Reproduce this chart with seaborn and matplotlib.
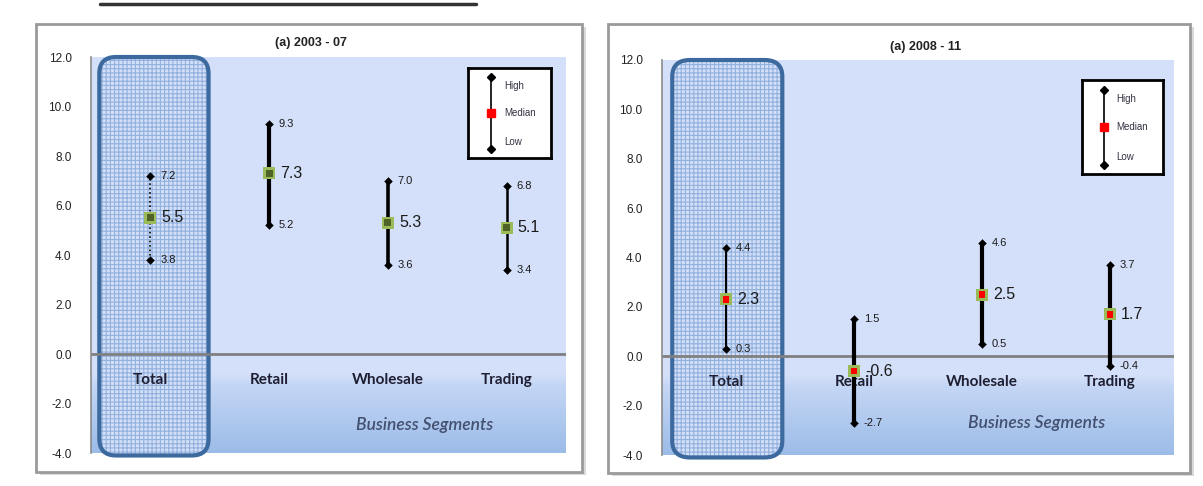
import numpy as np
import pandas as pd
import matplotlib
matplotlib.use("Agg")
import matplotlib.pyplot as plt
import seaborn as sns
from matplotlib.patches import FancyBboxPatch, Rectangle
from matplotlib.colors import LinearSegmentedColormap
from matplotlib.lines import Line2D

# Data
segments = ["Total", "Retail", "Wholesale", "Trading"]
titles = ["(a) 2003 - 07", "(a) 2008 - 11"]

high_0307 = [7.2, 9.3, 7.0, 6.8]
median_0307 = [5.5, 7.3, 5.3, 5.1]
low_0307 = [3.8, 5.2, 3.6, 3.4]

high_0811 = [4.4, 1.5, 4.6, 3.7]
median_0811 = [2.3, -0.6, 2.5, 1.7]
low_0811 = [0.3, -2.7, 0.5, -0.4]

yticks = [12.0, 10.0, 8.0, 6.0, 4.0, 2.0, 0.0, -2.0, -4.0]

sns.set_style("white")
plt.rcParams["font.family"] = ["Liberation Sans", "DejaVu Sans"]
plt.rcParams["hatch.linewidth"] = 0.8

fig = plt.figure(figsize=(12.03, 4.86), dpi=100)
W, H = 1203, 486


def px_rect(x0, y0, x1, y1):
    # pixel box (top-left origin) -> figure fraction [l, b, w, h]
    return [x0 / W, 1 - y1 / H, (x1 - x0) / W, (y1 - y0) / H]


# outer panel frames with a soft shadow
for (x0, y0, x1, y1) in [(36, 24, 582, 472), (608, 24, 1190, 473)]:
    l, b, w, h = px_rect(x0, y0, x1, y1)
    fig.patches.append(Rectangle((l + 0.003, b - 0.007), w, h, transform=fig.transFigure,
                                 facecolor="#d9d9d9", edgecolor="none", zorder=-2))
    fig.patches.append(Rectangle((l, b), w, h, transform=fig.transFigure,
                                 facecolor="white", edgecolor="#9a9a9a", lw=2, zorder=-1))

# stray rule at the top of the page
fig.add_artist(Line2D([100 / W, 476 / W], [1 - 4 / H, 1 - 4 / H], color="#333333", lw=2.5))

bg_cmap = LinearSegmentedColormap.from_list(
    "bg", [(0, "#9cbce8"), (0.17, "#c4d6f5"), (0.2, "#d4e0f9"), (1, "#d5e1fa")])

panels = [
    dict(box=(91, 57, 566, 453), high=high_0307, med=median_0307, low=low_0307,
         inner="#4f6228", title_xy=(311, 43), rect=(-0.43, 0.49),
         legend=[0.794, 0.745, 0.175, 0.227], bs=(0.703, 0.071),
         lws=[1.2, 3.0, 2.6, 1.8], styles=[":", "-", "-", "-"]),
    dict(box=(662, 60, 1174, 455), high=high_0811, med=median_0811, low=low_0811,
         inner="#ff0000", title_xy=(926, 47), rect=(-0.42, 0.44),
         legend=[0.820, 0.711, 0.158, 0.238], bs=(0.732, 0.081),
         lws=[1.5, 3.0, 3.0, 3.0], styles=["-", "-", "-", "-"]),
]

for i, p in enumerate(panels):
    ax = fig.add_axes(px_rect(*p["box"]))
    ax.set_zorder(2)
    pos = np.arange(len(segments))
    df = pd.DataFrame({"segment": segments, "pos": pos,
                       "high": p["high"], "median": p["med"], "low": p["low"]})

    ax.set_xlim(-0.5, 3.5)
    ax.set_ylim(-4, 12)

    grad = np.linspace(0, 1, 256).reshape(-1, 1)
    ax.imshow(grad, cmap=bg_cmap, origin="lower", aspect="auto",
              extent=[-0.5, 3.5, -4, 12], zorder=0)

    # highlighted "Total" column
    x0, x1 = p["rect"]
    fill = FancyBboxPatch((x0, -4.1), x1 - x0, 16.1,
                          boxstyle="round,pad=0,rounding_size=0.14", mutation_aspect=4.8,
                          facecolor="#d2dff7", edgecolor="#93b1de", hatch="++++", lw=0,
                          zorder=1, clip_on=False)
    ax.add_patch(fill)
    border = FancyBboxPatch((x0, -4.1), x1 - x0, 16.1,
                            boxstyle="round,pad=0,rounding_size=0.14", mutation_aspect=4.8,
                            facecolor="none", edgecolor="#3d6a9e", lw=3,
                            zorder=1.2, clip_on=False)
    ax.add_patch(border)

    ax.axhline(0, color="#808080", lw=2, zorder=1.5)

    # category labels inside the plot
    for xp, name in zip(pos, segments):
        ax.text(xp, -1.05, name, ha="center", va="center", fontsize=11,
                fontweight="bold", color="#1f1f33", family=["Lato", "DejaVu Sans"], zorder=2)
    ax.text(p["bs"][0], p["bs"][1], "Business Segments", transform=ax.transAxes,
            ha="center", va="center", fontsize=12.5, style="italic", fontweight="semibold",
            color="#435070", family=["Lato", "DejaVu Sans"], zorder=2)

    # high-low ranges
    for xp, hi, lo, lw, ls in zip(df["pos"], df["high"], df["low"], p["lws"], p["styles"]):
        ax.plot([xp, xp], [lo, hi], color="black", lw=lw, ls=ls, zorder=3,
                solid_capstyle="butt")
    sns.scatterplot(data=df, x="pos", y="high", marker="D", s=16, color="black",
                    edgecolor="black", ax=ax, legend=False, zorder=4)
    sns.scatterplot(data=df, x="pos", y="low", marker="D", s=16, color="black",
                    edgecolor="black", ax=ax, legend=False, zorder=4)
    sns.scatterplot(data=df, x="pos", y="median", marker="s", s=75, color="#9bbb59",
                    edgecolor="none", ax=ax, legend=False, zorder=5)
    sns.scatterplot(data=df, x="pos", y="median", marker="s", s=24, color=p["inner"],
                    edgecolor="none", ax=ax, legend=False, zorder=6)

    # value labels
    for xp, hi, md, lo in zip(df["pos"], df["high"], df["median"], df["low"]):
        for val, fs, off in [(hi, 8, 7), (lo, 8, 7), (md, 11.5, 8)]:
            ax.annotate(f"{val:.1f}", (xp, val), xytext=(off, 0), textcoords="offset points",
                        ha="left", va="center", fontsize=fs, color="#1a1a1a", zorder=7)

    ax.set_xlabel("")
    ax.set_ylabel("")
    ax.set_xticks([])
    ax.set_yticks(yticks)
    ax.set_yticklabels([f"{t:.1f}" for t in yticks], fontsize=8.5, color="#222222")
    ax.tick_params(axis="y", length=0, pad=14)
    for side in ["top", "right", "bottom"]:
        ax.spines[side].set_visible(False)
    ax.spines["left"].set_color("#8c8c8c")
    ax.spines["left"].set_linewidth(1.2)
    ax.spines["left"].set_zorder(2)

    # custom High / Median / Low key
    lg = ax.inset_axes(p["legend"], zorder=10)
    lg.set_xlim(0, 1)
    lg.set_ylim(0, 1)
    lg.set_xticks([])
    lg.set_yticks([])
    lg.set_facecolor("white")
    for s in lg.spines.values():
        s.set_color("black")
        s.set_linewidth(2)
    lg.plot([0.28, 0.28], [0.1, 0.9], color="black", lw=1.2)
    lg.plot([0.28, 0.28], [0.1, 0.9], ls="none", marker="D", ms=4, color="black")
    lg.plot([0.28], [0.5], ls="none", marker="s", ms=6, color="#ff0000")
    for yy, lab in [(0.8, "High"), (0.5, "Median"), (0.18, "Low")]:
        lg.text(0.43, yy, lab, ha="left", va="center", fontsize=7, color="#333344")

    fig.text(p["title_xy"][0] / W, 1 - p["title_xy"][1] / H, titles[i], ha="center",
             va="center", fontsize=9, fontweight="bold", color="#222222",
             bbox=dict(facecolor="white", edgecolor="none", pad=4))

fig.savefig("out.png", dpi=100, facecolor="white")
